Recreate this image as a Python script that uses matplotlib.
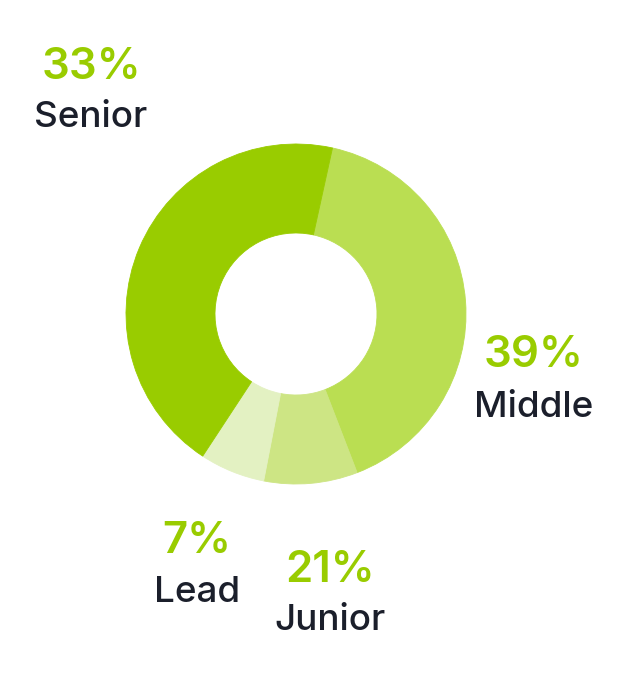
import matplotlib
matplotlib.use("Agg")
import matplotlib.pyplot as plt

# Slice shares as drawn (order: clockwise from the Senior/Middle boundary)
categories = ["Middle", "Junior", "Lead", "Senior"]
slice_values = [40.7, 8.9, 6.2, 44.2]
slice_colors = ["#BADE52", "#CDE584", "#E3F1C2", "#99CC00"]

# Labels as printed on the chart
label_names = ["Senior", "Middle", "Lead", "Junior"]
label_pcts = ["33%", "39%", "7%", "21%"]

W, H = 642, 676
fig = plt.figure(figsize=(W / 100, H / 100), dpi=100)
ax = fig.add_axes([0, 0, 1, 1])

cx, cy = 296, H - 314
R_out, R_in = 170, 81
wedges, _ = ax.pie(slice_values, colors=slice_colors, startangle=90 - 12.4,
                   counterclock=False, radius=R_out, center=(cx, cy),
                   wedgeprops=dict(width=R_out - R_in, linewidth=0.6))
for w in wedges:
    w.set_edgecolor(w.get_facecolor())

ax.set_xlim(0, W)
ax.set_ylim(0, H)
ax.set_aspect("equal")
ax.axis("off")

green = "#99CC00"
dark = "#1B1F2B"
font = "Inter"

# (x center, pct baseline, name baseline) in pixel coords from top
pos = {
    "Senior": (91, 79, 127),
    "Middle": (534, 367, 417),
    "Lead": (197, 553, 602),
    "Junior": (330, 582, 630),
}
for name, pct in zip(label_names, label_pcts):
    x, yb1, yb2 = pos[name]
    ax.text(x, H - yb1, pct, ha="center", va="baseline", fontsize=31.5,
            fontweight="semibold", color=green, family=font)
    ax.text(x, H - yb2, name, ha="center", va="baseline", fontsize=26.5,
            color=dark, family=font, fontweight="medium")

fig.savefig("out.png", dpi=100, facecolor="white")
